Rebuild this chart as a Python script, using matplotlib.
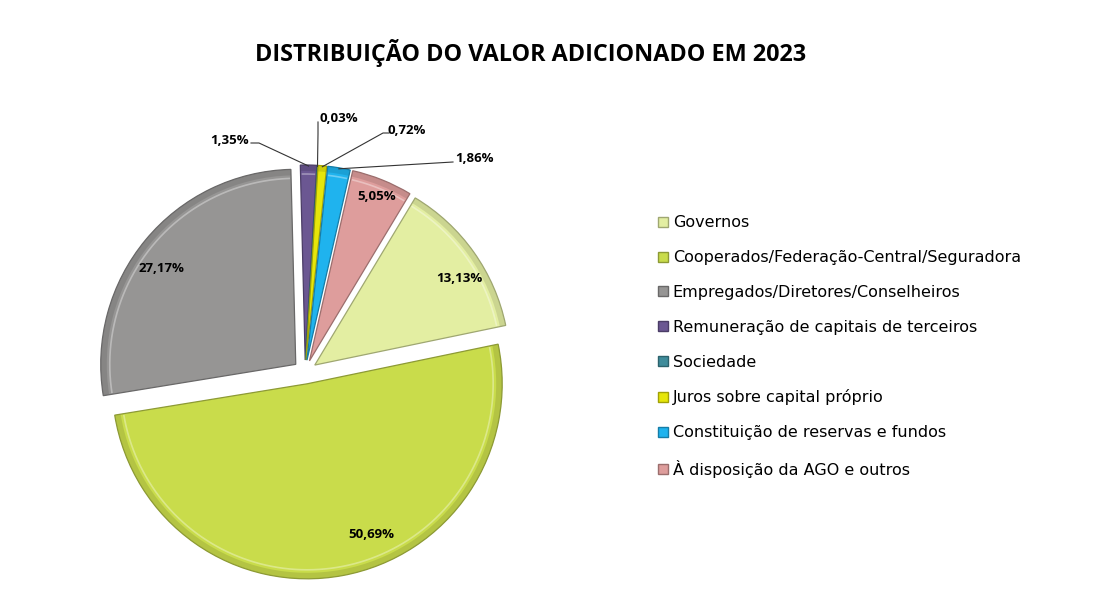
import numpy as np
import matplotlib
matplotlib.use("Agg")
import matplotlib.pyplot as plt
from matplotlib.patches import Wedge
from matplotlib.lines import Line2D
from matplotlib import colors as mcolors

categories = [
    "Governos",
    "Cooperados/Federação-Central/Seguradora",
    "Empregados/Diretores/Conselheiros",
    "Remuneração de capitais de terceiros",
    "Sociedade",
    "Juros sobre capital próprio",
    "Constituição de reservas e fundos",
    "À disposição da AGO e outros",
]
values = [13.13, 50.69, 27.17, 1.35, 0.03, 0.72, 1.86, 5.05]
labels = ["13,13%", "50,69%", "27,17%", "1,35%", "0,03%", "0,72%", "1,86%", "5,05%"]
colors = ["#E3EEA2", "#C9DC4B", "#969594", "#6B5792", "#3F8C9B",
          "#E6E60A", "#1FB3EE", "#DE9D9C"]

title = "DISTRIBUIÇÃO DO VALOR ADICIONADO EM 2023"

fig = plt.figure(figsize=(11.15, 6.14), dpi=100)
ax = fig.add_axes([(305 - 220) / 1115, (614 - 372 - 220) / 614, 440 / 1115, 440 / 614])

R = 0.975
explode = [0.06] * len(values)
wedges, _ = ax.pie(values, colors=colors, startangle=59, counterclock=False,
                   explode=explode, radius=R,
                   wedgeprops=dict(linewidth=0.9))
ax.set_xlim(-1.1, 1.1)
ax.set_ylim(-1.1, 1.1)
ax.set_aspect("equal")
ax.axis("off")

# bevel look: darker outline, shaded outer rim, light inner highlight
for w, c in zip(wedges, colors):
    w.set_clip_on(False)
    dark = np.array(mcolors.to_rgb(c)) * 0.7
    w.set_edgecolor(dark)
    ax.add_patch(Wedge(w.center, w.r, w.theta1, w.theta2, width=0.03,
                       facecolor=dark, edgecolor="none", alpha=0.35, clip_on=False))
    if w.theta2 - w.theta1 > 3:
        t = np.deg2rad(np.linspace(w.theta1 + 0.6, w.theta2 - 0.6, 200))
        rh = w.r - 0.045
        ax.plot(w.center[0] + rh * np.cos(t), w.center[1] + rh * np.sin(t),
                color="white", lw=1.2, alpha=0.35, clip_on=False)

pct_font = dict(fontsize=9.5, fontweight="bold", family=["Open Sans", "DejaVu Sans"])

# inside labels for large slices (layout positions)
inside_pos = {0: (0.77, 0.47), 1: (0.33, -0.81), 2: (-0.72, 0.52), 7: (0.36, 0.88)}
for i, (x, y) in inside_pos.items():
    ax.text(x, y, labels[i], ha="center", va="center", **pct_font)

# outside labels for small slices, with leader lines
line_kw = dict(color="#333333", lw=0.8, clip_on=False)


def tip(i, r=0.97):
    w = wedges[i]
    ang = np.deg2rad((w.theta1 + w.theta2) / 2)
    return w.center[0] + r * np.cos(ang), w.center[1] + r * np.sin(ang)


px, py = tip(3)
ax.plot([-0.27, -0.23, px], [1.145, 1.145, py], **line_kw)
ax.text(-0.28, 1.155, labels[3], ha="right", va="center", **pct_font)

px, py = tip(4)
ax.plot([0.065, 0.065, px], [1.25, 1.19, py], **line_kw)
ax.text(0.075, 1.265, labels[4], ha="left", va="center", **pct_font)

px, py = tip(5)
ax.plot([0.42, 0.39, px], [1.195, 1.195, py], **line_kw)
ax.text(0.415, 1.21, labels[5], ha="left", va="center", **pct_font)

px, py = tip(6)
ax.plot([0.74, px], [1.05, py], **line_kw)
ax.text(0.75, 1.07, labels[6], ha="left", va="center", **pct_font)

fig.text(531 / 1115, 1 - 53 / 614, title, ha="center", va="center",
         fontsize=16.8, fontweight="bold", family=["Open Sans", "DejaVu Sans"])

handles = [Line2D([0], [0], marker="s", linestyle="none", markersize=7,
                  markerfacecolor=c,
                  markeredgecolor=tuple(np.array(mcolors.to_rgb(c)) * 0.7))
           for c in colors]
leg = fig.legend(handles, categories, loc="upper left",
                 bbox_to_anchor=(652 / 1115, 1 - 209 / 614), frameon=False,
                 fontsize=11.5, handlelength=0.6, handletextpad=0.3,
                 labelspacing=1.24, borderaxespad=0)

fig.savefig("out.png", dpi=100)
